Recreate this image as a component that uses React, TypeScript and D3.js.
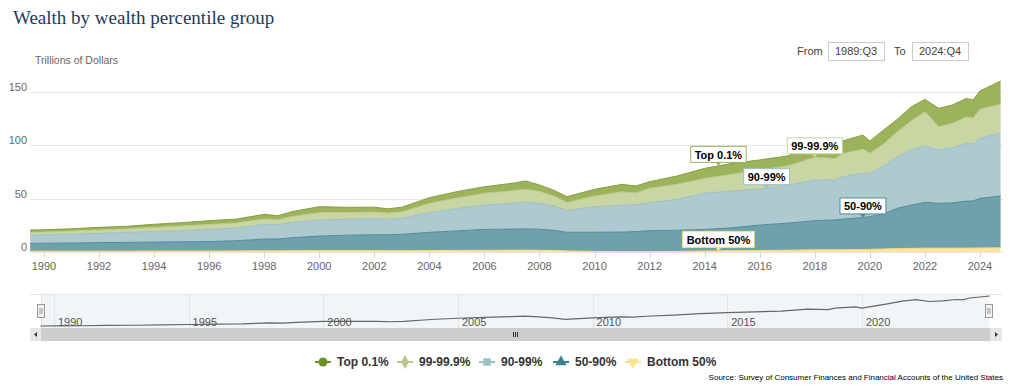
import React, { useEffect, useRef } from "react";
import * as d3 from "d3";

const width = 1024;
const height = 392;
const plot = { left: 30, right: 1001, top: 92, bottom: 252 };
const nav = { left: 41, right: 989, top: 294, bottom: 328 };

// quarterly observations (trillions of dollars)
const dates = [
  "1989Q3", "1990Q1", "1991Q1", "1992Q1", "1993Q1", "1994Q1", "1995Q1", "1996Q1",
  "1997Q1", "1998Q1", "1998Q3", "1999Q1", "2000Q1", "2001Q1", "2002Q1", "2002Q3",
  "2003Q1", "2004Q1", "2005Q1", "2006Q1", "2007Q1", "2007Q3", "2008Q1", "2008Q3",
  "2009Q1", "2010Q1", "2011Q1", "2011Q3", "2012Q1", "2013Q1", "2014Q1", "2015Q1",
  "2016Q1", "2017Q1", "2018Q1", "2018Q4", "2019Q1", "2019Q4", "2020Q1", "2020Q3",
  "2021Q1", "2021Q3", "2022Q1", "2022Q3", "2023Q1", "2023Q3", "2023Q4", "2024Q1",
  "2024Q4",
];
const bottom50 = [
  0.8, 0.8, 0.8, 0.8, 0.8, 0.9, 0.9, 0.9, 1.0, 1.1, 1.1, 1.2, 1.3, 1.3, 1.3, 1.2,
  1.2, 1.4, 1.5, 1.6, 1.7, 1.8, 1.6, 1.4, 1.0, 0.6, 0.4, 0.4, 0.4, 0.6, 0.9, 1.2,
  1.4, 1.7, 2.0, 2.1, 2.2, 2.4, 2.5, 2.8, 3.2, 3.4, 3.6, 3.6, 3.6, 3.7, 3.7, 3.8,
  3.9,
];
const p50to90 = [
  7.3, 7.4, 7.6, 8.0, 8.2, 8.4, 8.7, 8.9, 9.6, 11.0, 11.1, 12.2, 13.6, 14.5, 14.9, 15.0,
  15.4, 17.0, 18.3, 19.6, 19.8, 19.8, 19.7, 19.0, 17.5, 17.9, 18.3, 18.8, 19.6, 19.8, 20.3, 21.5,
  23.9, 25.3, 27.4, 28.0, 28.5, 30.0, 30.6, 33.0, 37.8, 40.5, 43.0, 42.0, 42.5, 44.0, 44.2, 46.5,
  48.6,
];
const p90to99 = [
  7.8, 7.9, 8.3, 8.7, 9.3, 10.0, 10.5, 11.4, 12.0, 13.9, 13.4, 14.4, 15.1, 14.9, 15.0, 14.6,
  15.1, 18.5, 21.0, 22.8, 24.2, 25.0, 24.5, 22.8, 20.5, 24.0, 25.2, 25.0, 26.3, 29.0, 33.8, 34.6,
  33.7, 35.3, 38.1, 37.5, 39.8, 41.5, 40.7, 44.5, 48.4, 52.0, 52.8, 50.0, 51.5, 54.0, 53.5, 56.3,
  58.8,
];
const p99to999 = [
  2.6, 2.6, 2.9, 3.2, 3.3, 3.8, 4.2, 4.6, 4.7, 5.0, 4.7, 5.4, 6.9, 6.4, 6.2, 5.7,
  5.9, 8.7, 9.8, 11.0, 11.7, 12.2, 11.0, 9.5, 7.3, 10.0, 12.5, 11.2, 13.4, 14.2, 14.0, 15.5,
  17.9, 18.3, 21.3, 20.0, 21.5, 22.5, 18.7, 21.0, 23.4, 27.0, 32.2, 21.9, 23.0, 25.0, 24.0, 27.2,
  27.2,
];
const top01 = [
  2.1, 2.1, 2.2, 2.4, 2.5, 2.9, 3.2, 3.6, 3.6, 4.3, 3.7, 4.6, 5.6, 4.8, 4.6, 4.0,
  4.4, 5.3, 6.0, 6.2, 7.0, 7.8, 6.0, 5.4, 5.6, 6.3, 7.0, 6.5, 6.2, 7.7, 9.4, 10.3,
  9.4, 9.4, 10.6, 9.4, 12.0, 13.3, 11.5, 13.1, 11.6, 13.1, 11.5, 17.2, 17.2, 17.3, 17.1, 17.1,
  21.8,
];

const seriesNames = ["Bottom 50%", "50-90%", "90-99%", "99-99.9%", "Top 0.1%"];
const seriesValues = [bottom50, p50to90, p90to99, p99to999, top01];
const fills = ["#fde4a0", "#6ea1ab", "#aec9cf", "#c9d6a4", "#9cb25b"];
const strokes = ["#fcd87a", "#4e8c99", "#9dbfc7", "#b9cb90", "#86a040"];
const markerColors = ["#fde08a", "#3f8090", "#9dbfc6", "#b4c98b", "#6d9027"];
const markerShapes = [d3.symbolTriangle, d3.symbolTriangle, d3.symbolSquare, d3.symbolDiamond, d3.symbolCircle];

const yTicks = [0, 50, 100, 150];
const xTicks = d3.range(1990, 2025, 2);
const navTicks = [1990, 1995, 2000, 2005, 2010, 2015, 2020];

// annotation: series index and quarter it points at
const annotations = [
  { series: 4, date: "2014Q3" },
  { series: 3, date: "2018Q1" },
  { series: 2, date: "2016Q2" },
  { series: 1, date: "2019Q4" },
  { series: 0, date: "2014Q3" },
];

const font = "'Liberation Sans', Arial, sans-serif";

const toYear = (s: string) => +s.slice(0, 4) + (+s.slice(5) - 1) / 4;

export default function App() {
  const ref = useRef<SVGSVGElement>(null);

  useEffect(() => {
    const svg = d3.select(ref.current);
    svg.selectAll("*").remove();

    const rows = dates.map((dt, i) => {
      const r: any = { t: toYear(dt) };
      seriesNames.forEach((n, k) => (r[n] = seriesValues[k][i]));
      return r;
    });
    const stacked = d3.stack().keys(seriesNames)(rows);

    const x = d3.scaleLinear().domain([toYear(dates[0]), toYear(dates[dates.length - 1])]).range([30.2, 1000.6]);
    const y = d3.scaleLinear().domain([0, 150]).range([plot.bottom, plot.top]);

    // title
    svg.append("text").attr("x", 13).attr("y", 24)
      .attr("font-family", "'Liberation Serif', 'DejaVu Serif', serif").attr("font-size", 19)
      .attr("fill", "#1e3a5c").text("Wealth by wealth percentile group");
    svg.append("text").attr("x", 35).attr("y", 64).attr("font-family", font)
      .attr("font-size", 10.5).attr("fill", "#666").text("Trillions of Dollars");

    // range inputs
    const inputs = svg.append("g").attr("font-family", font).attr("font-size", 11).attr("fill", "#444");
    inputs.append("text").attr("x", 797).attr("y", 55).text("From");
    inputs.append("text").attr("x", 894).attr("y", 55).text("To");
    [[828, "1989:Q3"], [912, "2024:Q4"]].forEach(([bx, lbl]) => {
      inputs.append("rect").attr("x", +bx + 0.5).attr("y", 42.5).attr("width", 56).attr("height", 18)
        .attr("fill", "#fff").attr("stroke", "#ccc");
      inputs.append("text").attr("x", +bx + 28).attr("y", 55).attr("text-anchor", "middle").text(lbl as string);
    });

    // grid
    svg.append("g").selectAll("line").data(yTicks).join("line")
      .attr("x1", plot.left).attr("x2", 1003)
      .attr("y1", d => Math.round(y(d)) + 0.5).attr("y2", d => Math.round(y(d)) + 0.5)
      .attr("stroke", "#e6e6e6");
    svg.append("g").selectAll("text").data(yTicks).join("text")
      .attr("x", 27).attr("y", d => y(d) - 1).attr("text-anchor", "end")
      .attr("font-family", font).attr("font-size", 11).attr("fill", "#666").text(d => d);

    // areas
    const area = d3.area<any>().x(d => x(d.data.t)).y0(d => y(d[0])).y1(d => y(d[1]));
    const topLine = d3.line<any>().x(d => x(d.data.t)).y(d => y(d[1]));
    const g = svg.append("g");
    stacked.forEach((s, k) => {
      g.append("path").attr("d", area(s)).attr("fill", fills[k]);
    });
    stacked.forEach((s, k) => {
      g.append("path").attr("d", topLine(s)).attr("fill", "none").attr("stroke", strokes[k]).attr("stroke-width", 1);
    });

    // x axis
    const ax = svg.append("g");
    ax.selectAll("line").data(xTicks).join("line")
      .attr("x1", d => Math.round(x(d)) + 0.5).attr("x2", d => Math.round(x(d)) + 0.5)
      .attr("y1", plot.bottom).attr("y2", plot.bottom + 6).attr("stroke", "#ccd6eb");
    ax.selectAll("text").data(xTicks).join("text")
      .attr("x", d => x(d)).attr("y", 270).attr("text-anchor", "middle")
      .attr("font-family", font).attr("font-size", 11).attr("fill", "#666").text(d => d);

    // annotations
    const at = (k: number, dt: string) => {
      const t = toYear(dt);
      const s = stacked[k];
      const i = d3.bisector((d: any) => d.data.t).left(s, t);
      const a: any = s[Math.max(0, i - 1)], b: any = s[Math.min(s.length - 1, i)];
      const f = b.data.t === a.data.t ? 0 : (t - a.data.t) / (b.data.t - a.data.t);
      return a[1] + (b[1] - a[1]) * f;
    };
    const labelBorder = ["#fde08a", "#4e8c99", "#9dbfc6", "#c9d6a4", "#9cb25b"];
    annotations.forEach(({ series, date }) => {
      const px = x(toYear(date));
      const py = y(at(series, date));
      const ag = svg.append("g").attr("font-family", font).attr("font-size", 11).attr("font-weight", "bold");
      const txt = ag.append("text").attr("x", px).attr("y", py - 7).attr("text-anchor", "middle")
        .attr("fill", "#000").text(seriesNames[series]);
      const w = (txt.node() as SVGTextElement).getComputedTextLength() + 8;
      ag.insert("rect", "text").attr("x", px - w / 2).attr("y", py - 19.5).attr("width", w).attr("height", 16)
        .attr("fill", "#fff").attr("stroke", labelBorder[series]);
      ag.insert("path", "text").attr("d", `M${px - 3},${py - 3.5} L${px},${py} L${px + 3},${py - 3.5} Z`)
        .attr("fill", labelBorder[series]);
    });

    // navigator
    const nx = d3.scaleLinear().domain(x.domain()).range([40.5, 989.8]);
    const totals = stacked[stacked.length - 1].map((d: any) => d[1]);
    const ny = d3.scaleLinear().domain(d3.extent(totals) as [number, number]).range([326, 296]);
    svg.append("line").attr("x1", 30).attr("x2", 1002).attr("y1", nav.top + 0.5).attr("y2", nav.top + 0.5).attr("stroke", "#e6e6e6");
    svg.append("rect").attr("x", nav.left).attr("y", nav.top + 1).attr("width", nav.right - nav.left)
      .attr("height", nav.bottom - nav.top - 1).attr("fill", "#f2f5f8");
    svg.append("line").attr("x1", nav.left + 0.5).attr("x2", nav.left + 0.5).attr("y1", nav.top).attr("y2", nav.bottom).attr("stroke", "#e0e4e8");
    const ng = svg.append("g");
    ng.selectAll("line").data(navTicks).join("line")
      .attr("x1", d => Math.round(nx(d)) + 0.5).attr("x2", d => Math.round(nx(d)) + 0.5)
      .attr("y1", nav.top).attr("y2", nav.bottom).attr("stroke", "#e2e6ea");
    ng.append("path").datum(stacked[stacked.length - 1]).attr("fill", "none").attr("stroke", "#666").attr("stroke-width", 1.2)
      .attr("d", d3.line<any>().x(d => nx(d.data.t)).y(d => ny(d[1])));
    ng.selectAll("text").data(navTicks).join("text")
      .attr("x", d => nx(d) + 4).attr("y", 326).attr("font-family", font).attr("font-size", 11)
      .attr("fill", "#555").text(d => d);
    [nav.left - 3.5, nav.right - 3.5].forEach(hx => {
      svg.append("rect").attr("x", hx).attr("y", 304.5).attr("width", 7).attr("height", 13)
        .attr("fill", "#f2f2f2").attr("stroke", "#999");
      [hx + 2.5, hx + 4.5].forEach(lx => svg.append("line").attr("x1", lx).attr("x2", lx).attr("y1", 308).attr("y2", 314).attr("stroke", "#999"));
    });

    // scrollbar
    svg.append("rect").attr("x", 30).attr("y", nav.bottom).attr("width", 972).attr("height", 13).attr("fill", "#cdcdcd");
    svg.append("rect").attr("x", 30).attr("y", nav.bottom).attr("width", 11).attr("height", 13).attr("fill", "#e6e6e6");
    svg.append("rect").attr("x", 990).attr("y", nav.bottom).attr("width", 12).attr("height", 13).attr("fill", "#e6e6e6");
    svg.append("path").attr("d", `M37,${nav.bottom + 4} L34,${nav.bottom + 6.5} L37,${nav.bottom + 9} Z`).attr("fill", "#333");
    svg.append("path").attr("d", `M995,${nav.bottom + 4} L998,${nav.bottom + 6.5} L995,${nav.bottom + 9} Z`).attr("fill", "#333");
    const gx = (nav.left + nav.right) / 2;
    [-2, 0, 2].forEach(o => svg.append("line").attr("x1", gx + o + 0.5).attr("x2", gx + o + 0.5)
      .attr("y1", nav.bottom + 4).attr("y2", nav.bottom + 9).attr("stroke", "#333"));

    // legend
    const legendOrder = [4, 3, 2, 1, 0];
    const legendX = [323, 405, 487, 561, 633];
    const lg = svg.append("g").attr("font-family", font).attr("font-size", 12).attr("font-weight", "bold");
    legendOrder.forEach((k, i) => {
      const cx = legendX[i];
      lg.append("line").attr("x1", cx - 8).attr("x2", cx + 8).attr("y1", 362).attr("y2", 362)
        .attr("stroke", markerColors[k]).attr("stroke-width", 2);
      lg.append("path").attr("d", d3.symbol().type(markerShapes[k]).size(k === 4 ? 64 : 55)())
        .attr("transform", `translate(${cx},362)${k === 0 ? " rotate(180)" : ""}`)
        .attr("fill", markerColors[k]);
      lg.append("text").attr("x", cx + 14).attr("y", 366).attr("fill", "#333").text(seriesNames[k]);
    });

    svg.append("text").attr("x", 1003).attr("y", 380).attr("text-anchor", "end")
      .attr("font-family", font).attr("font-size", 8).attr("fill", "#000")
      .text("Source: Survey of Consumer Finances and Financial Accounts of the United States");
  }, []);

  return (
    <svg ref={ref} width={width} height={height}
      style={{ position: "absolute", left: 0, top: 0, background: "#fff" }} />
  );
}
